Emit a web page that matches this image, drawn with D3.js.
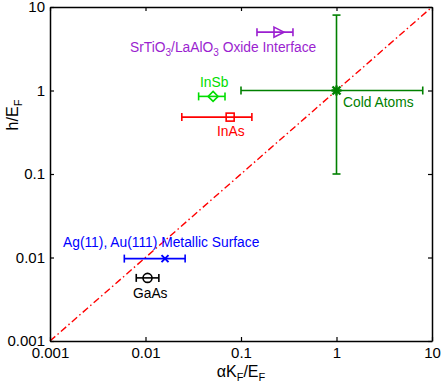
<!DOCTYPE html>
<html>
<head>
<meta charset="utf-8">
<script src="https://d3js.org/d3.v7.min.js"></script>
<style>
  body { margin: 0; background: #fff; }
  svg { font-family: "Liberation Sans", Arial, sans-serif; }
</style>
</head>
<body>
<svg id="svg" width="443" height="384"></svg>
<script>
// data
var names   = ["SrTiO3", "InSb", "InAs", "Cold Atoms", "Ag", "GaAs"];
var xVal    = [0.25, 0.051, 0.077, 1, 0.016, 0.0105];
var xLo     = [0.147, 0.036, 0.024, 0.1, 0.006, 0.008];
var xHi     = [0.35, 0.068, 0.13, 8, 0.026, 0.0138];
var yVal    = [5, 0.85, 0.48, 1, 0.0097, 0.0057];
var yLo     = [null, null, null, 0.1, null, null];
var yHi     = [null, null, null, 8, null, null];
var markers = ["triangle", "diamond", "square", "star", "cross", "circle"];
var colors  = ["#9b1fd0", "#00dd00", "#ff0000", "#008000", "#0000ff", "#000000"];
var tickVals = [0.001, 0.01, 0.1, 1, 10];
var tickLabels = ["0.001", "0.01", "0.1", "1", "10"];

var svg = d3.select("#svg");
var L = 50, R = 432, T = 7, B = 341;

var x = d3.scaleLog().domain([0.001, 10]).range([L, R]);
var y = d3.scaleLog().domain([0.001, 10]).range([B, T]);

// diagonal dash-dot line y = x
svg.append("line")
  .attr("x1", x(0.001)).attr("y1", y(0.001))
  .attr("x2", x(10)).attr("y2", y(10))
  .attr("stroke", "#ff0000").attr("stroke-width", 1.4)
  .attr("stroke-dasharray", "7,3,1.5,3");

// axes box with inward ticks
var fmt = function(d, i) { return tickLabels[i]; };
svg.append("g").attr("transform", "translate(0," + B + ")")
  .call(d3.axisBottom(x).tickValues(tickVals).tickFormat(fmt).tickSizeInner(-4).tickSizeOuter(0).tickPadding(6));
svg.append("g").attr("transform", "translate(0," + T + ")")
  .call(d3.axisTop(x).tickValues(tickVals).tickFormat("").tickSizeInner(-4).tickSizeOuter(0));
svg.append("g").attr("transform", "translate(" + L + ",0)")
  .call(d3.axisLeft(y).tickValues(tickVals).tickFormat(fmt).tickSizeInner(-4).tickSizeOuter(0).tickPadding(5));
svg.append("g").attr("transform", "translate(" + R + ",0)")
  .call(d3.axisRight(y).tickValues(tickVals).tickFormat("").tickSizeInner(-4).tickSizeOuter(0));

svg.selectAll(".domain").attr("stroke", "#000").attr("stroke-width", 1.5);
svg.selectAll(".tick line").attr("stroke", "#000").attr("stroke-width", 1.2);
svg.selectAll(".tick text").attr("font-size", 15).attr("fill", "#000")
  .attr("font-family", "Liberation Sans, Arial, sans-serif");

// error bars
var cap = 4;
names.forEach(function(n, i) {
  var g = svg.append("g").attr("stroke", colors[i]).attr("stroke-width", 1.6).attr("fill", "none");
  var cx = x(xVal[i]), cy = y(yVal[i]);
  g.append("line").attr("x1", x(xLo[i])).attr("x2", x(xHi[i])).attr("y1", cy).attr("y2", cy);
  g.append("line").attr("x1", x(xLo[i])).attr("x2", x(xLo[i])).attr("y1", cy - cap).attr("y2", cy + cap);
  g.append("line").attr("x1", x(xHi[i])).attr("x2", x(xHi[i])).attr("y1", cy - cap).attr("y2", cy + cap);
  if (yLo[i] !== null) {
    g.append("line").attr("x1", cx).attr("x2", cx).attr("y1", y(yLo[i])).attr("y2", y(yHi[i]));
    g.append("line").attr("x1", cx - cap).attr("x2", cx + cap).attr("y1", y(yLo[i])).attr("y2", y(yLo[i]));
    g.append("line").attr("x1", cx - cap).attr("x2", cx + cap).attr("y1", y(yHi[i])).attr("y2", y(yHi[i]));
  }
  // markers
  var m = svg.append("g").attr("transform", "translate(" + cx + "," + cy + ")")
    .attr("stroke", colors[i]).attr("stroke-width", 1.6).attr("fill", "none");
  var s = 5;
  if (markers[i] === "triangle") {
    m.append("path").attr("d", "M" + (-s) + "," + (-s) + "L" + s + ",0L" + (-s) + "," + s + "Z");
  } else if (markers[i] === "diamond") {
    m.append("path").attr("d", "M0," + (-s) + "L" + s + ",0L0," + s + "L" + (-s) + ",0Z");
  } else if (markers[i] === "square") {
    m.append("rect").attr("x", -4).attr("y", -4).attr("width", 8).attr("height", 8);
  } else if (markers[i] === "circle") {
    m.append("circle").attr("r", 4.5);
  } else if (markers[i] === "cross") {
    m.append("path").attr("d", "M-3.5,-3.5L3.5,3.5M-3.5,3.5L3.5,-3.5").attr("stroke-width", 2);
  } else if (markers[i] === "star") {
    m.append("path").attr("d", "M-5,0L5,0M0,-5L0,5M-4,-4L4,4M-4,4L4,-4").attr("stroke-width", 2.4);
  }
});

// point labels
function label(tx, ty, col, parts) {
  var t = svg.append("text").attr("x", tx).attr("y", ty).attr("fill", col).attr("font-size", 13.8);
  parts.forEach(function(p) {
    if (p[1]) {
      t.append("tspan").text(p[0]).attr("font-size", 10).attr("dy", 4);
    } else {
      t.append("tspan").text(p[0]).attr("dy", p[2] || 0);
    }
  });
  return t;
}
label(130, 52, colors[0], [["SrTiO"], ["3", true], ["/LaAlO", false, -4], ["3", true], [" Oxide Interface", false, -4]]);
label(200, 87, colors[1], [["InSb"]]);
label(217, 136, colors[2], [["InAs"]]);
label(343, 107, colors[3], [["Cold Atoms"]]);
label(63, 247, colors[4], [["Ag(11), Au(111) Metallic Surface"]]);
label(133, 298, colors[5], [["GaAs"]]);

// axis titles
var xt = svg.append("text").attr("x", 241).attr("y", 377).attr("text-anchor", "middle").attr("font-size", 16);
xt.append("tspan").text("\u03b1K");
xt.append("tspan").text("F").attr("font-size", 11).attr("dy", 4);
xt.append("tspan").text("/E").attr("dy", -4);
xt.append("tspan").text("F").attr("font-size", 11).attr("dy", 4);

var yt = svg.append("text").attr("transform", "translate(18,115) rotate(-90)").attr("text-anchor", "middle").attr("font-size", 16);
yt.append("tspan").text("h/E");
yt.append("tspan").text("F").attr("font-size", 11).attr("dy", 4);
</script>
</body>
</html>
